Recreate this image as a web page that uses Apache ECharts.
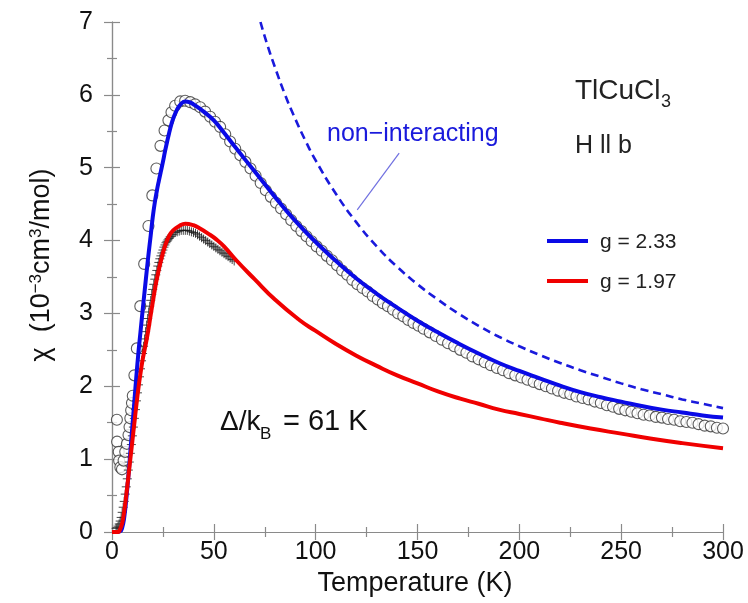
<!DOCTYPE html>
<html><head><meta charset="utf-8">
<script src="https://cdn.jsdelivr.net/npm/echarts@6/dist/echarts.min.js"></script>
<style>html,body{margin:0;padding:0;background:#fff}#c{width:748px;height:603px}</style>
</head><body><div id="c"></div>
<script>
// ---- data ----
var xTicks = [0, 50, 100, 150, 200, 250, 300];
var yTicks = [0, 1, 2, 3, 4, 5, 6, 7];

// open circles: measured chi, [T (K), chi (1e-3 cm3/mol)]
var circlesData = [
  [2.4,1.54],[2.5,1.24],[3.3,1.10],[3.5,0.98],[4.1,0.89],[4.9,0.86],[5.7,0.98],[6.5,1.10],[7.3,1.21],[8.1,1.33],[8.6,1.44],[9.0,1.56],[9.4,1.67],[9.8,1.77],[10.2,1.87],[11.0,2.15],
  [12.2,2.52],[13.9,3.10],[15.8,3.68],[17.9,4.20],[19.8,4.62],[21.8,4.99],[23.8,5.30],[25.8,5.51],[27.7,5.65],[29.2,5.76],[31.0,5.85],[33.5,5.91],[35.9,5.92],
  [38.4,5.90],[40.8,5.87],[43.3,5.83],[45.7,5.77],[48.2,5.70],[50.6,5.63],[53.1,5.56],[55.6,5.46],[58.0,5.36],[60.5,5.26],[63.0,5.17],[65.5,5.08],[68.0,4.99],
  [70.5,4.89],[73.0,4.79],[75.5,4.69],[78.0,4.60],[80.5,4.52],[83.0,4.44],[85.5,4.36],[88.0,4.28],[90.5,4.20],[93.0,4.13],[95.5,4.06],[98.0,3.99],[100.5,3.92],
  [103.0,3.86],[105.5,3.79],[108.0,3.73],[110.5,3.66],[113.0,3.59],[115.5,3.53],[118.0,3.46],[120.5,3.40],[123.0,3.35],[125.5,3.30],[128.0,3.24],[130.5,3.19],
  [133.0,3.14],[135.5,3.10],[138.0,3.05],[140.5,3.00],[143.0,2.96],[145.5,2.91],[148.0,2.87],[150.5,2.83],[153.0,2.79],[156.0,2.74],[159.0,2.69],[162.0,2.64],
  [165.0,2.59],[168.0,2.55],[171.0,2.50],[174.0,2.46],[177.0,2.41],[180.0,2.37],[183.0,2.33],[186.0,2.29],[189.0,2.25],[192.0,2.22],[195.0,2.18],[198.0,2.15],
  [201.0,2.12],[204.0,2.09],[207.0,2.06],[210.0,2.03],[213.0,2.00],[216.0,1.97],[219.0,1.94],[222.0,1.91],[225.0,1.89],[228.0,1.86],[231.0,1.84],[234.0,1.82],
  [237.0,1.79],[240.0,1.77],[243.0,1.74],[246.0,1.72],[249.0,1.69],[252.0,1.67],[255.0,1.65],[258.0,1.63],[261.0,1.61],[264.0,1.60],[267.0,1.58],[270.0,1.57],
  [273.0,1.55],[276.0,1.54],[279.0,1.52],[282.0,1.51],[285.0,1.50],[288.0,1.48],[291.0,1.46],[294.0,1.45],[297.0,1.43],[300.0,1.42]
];

// crosses: second data set, [T, chi]
var crossesData = [
  [2,0.05],[2.5,0.06],[3,0.08],[3.5,0.11],[4,0.15],[4.5,0.2],[5,0.27],[5.5,0.34],[6,0.42],[6.5,0.52],[7,0.62],[7.5,0.73],[8,0.85],[8.5,0.96],[9,1.08],[9.5,1.2],
  [10,1.32],[10.5,1.44],[11,1.56],[11.5,1.68],[12,1.80],[12.5,1.91],[13,2.02],[13.5,2.13],[14,2.24],[14.5,2.35],[15,2.45],[15.5,2.55],[16,2.65],[16.5,2.75],
  [17,2.84],[17.5,2.93],[18,3.02],[18.5,3.10],[19,3.18],[19.5,3.26],[20,3.33],[20.5,3.40],[21,3.47],[21.5,3.53],[22,3.59],[22.5,3.65],[23,3.70],[23.5,3.75],
  [24,3.79],[24.5,3.83],[25,3.87],[25.5,3.91],[26,3.94],[26.5,3.97],[27,3.99],[27.5,4.01],[28,4.03],[28.5,4.05],[29,4.06],[29.5,4.08],[30,4.09],[31,4.11],
  [32,4.12],[33,4.13],[34,4.14],[35,4.14],[36,4.14],[37,4.14],[38,4.13],[39,4.12],[40,4.11],[41,4.10],[42,4.08],[43,4.06],[44,4.04],[45,4.02],[46,4.00],
  [47,3.98],[48,3.96],[49,3.94],[50,3.92],[51,3.90],[52,3.88],[53,3.86],[54,3.84],[55,3.82],[56,3.80],[57,3.78],[58,3.76],[59,3.74],[60,3.72]
];

// fit g = 2.33 (blue solid)
var fitBlue = [
  [2,0],[4,0.01],[5,0.06],[6,0.2],[7,0.45],[8,0.75],[9,1.1],[10,1.45],[11,1.8],[12,2.15],[13,2.47],[14,2.75],[15,3.03],[16,3.3],[17,3.57],[18,3.83],[19,4.07],
  [20,4.32],[21,4.52],[22,4.68],[23,4.82],[24,4.95],[25,5.08],[26,5.22],[27,5.35],[28,5.47],[29,5.58],[30,5.67],[32,5.8],[34,5.88],[36,5.91],[38,5.9],[40,5.87],
  [45,5.77],[50,5.65],[55,5.48],[60,5.30],[70,4.95],[80,4.60],[90,4.27],[100,3.98],[110,3.72],[120,3.48],[130,3.27],[140,3.08],[150,2.90],[160,2.74],
  [170,2.59],[180,2.45],[190,2.32],[200,2.21],[210,2.11],[220,2.01],[230,1.92],[240,1.85],[250,1.79],[260,1.73],[270,1.68],[280,1.64],[290,1.60],[300,1.57]
];

// fit g = 1.97 (red solid)
var fitRed = [
  [0,0],[3,0],[4,0.04],[5,0.12],[6,0.28],[7,0.5],[8,0.75],[9,1.0],[10,1.25],[11,1.5],[12,1.75],[13,1.98],[14,2.18],[15,2.36],[16,2.5],[17,2.64],[18,2.8],
  [19,2.98],[20,3.15],[21,3.32],[22,3.47],[24,3.72],[26,3.92],[28,4.06],[30,4.14],[33,4.2],[36,4.23],[40,4.21],[43,4.17],[47,4.10],[51.5,4.01],[55,3.92],
  [61,3.73],[70,3.47],[80,3.19],[92,2.91],[100,2.76],[110,2.58],[120,2.42],[130,2.28],[140,2.15],[150,2.04],[160,1.93],[171,1.83],[180,1.76],[190,1.68],
  [200,1.62],[210,1.56],[220,1.50],[235,1.42],[250,1.35],[265,1.28],[280,1.22],[300,1.15]
];

// non-interacting (blue dashed)
var nonInteracting = [
  [72.9,7.0],[76,6.71],[80,6.38],[85,6.0],[90,5.67],[95,5.37],[100,5.1],[110,4.64],[120,4.25],[130,3.92],[140,3.64],[150,3.4],[160,3.19],[170,3.0],
  [180,2.83],[190,2.68],[200,2.55],[210,2.43],[220,2.32],[230,2.22],[240,2.13],[250,2.04],[260,1.96],[270,1.89],[280,1.82],[290,1.76],[300,1.70]
];

// pointer from label "non-interacting" to the dashed curve
var pointerLine = [[141,5.2],[120.4,4.42]];

var FONT = '"Liberation Sans", Arial, sans-serif';
var AXC = '#8a8a8a';
var chart = echarts.init(document.getElementById('c'), null, {renderer: 'canvas'});

function xAx(pos, showLabel) {
  return {
    type: 'value', position: pos, min: xTicks[0], max: xTicks[xTicks.length-1], interval: 50,
    axisLine: {show: true, lineStyle: {color: AXC, width: 1.2}},
    axisTick: {show: true, inside: true, length: 8, lineStyle: {color: AXC, width: 1.2}},
    minorTick: {show: true, splitNumber: 2, length: 5, lineStyle: {color: AXC, width: 1.2}},
    splitLine: {show: false},
    axisLabel: {show: showLabel, fontSize: 25, color: '#111', fontFamily: FONT, margin: 8}
  };
}
function yAx(pos, showLabel) {
  return {
    type: 'value', position: pos, min: yTicks[0], max: yTicks[yTicks.length-1], interval: 1,
    axisLine: {show: true, lineStyle: {color: AXC, width: 1.2}},
    axisTick: {show: true, inside: true, length: 8, lineStyle: {color: AXC, width: 1.2}},
    minorTick: {show: true, splitNumber: 2, length: 5, lineStyle: {color: AXC, width: 1.2}},
    splitLine: {show: false},
    axisLabel: {show: showLabel, fontSize: 25, color: '#111', fontFamily: FONT, margin: 19}
  };
}

var crossPath = 'path://M0,5L10,5M5,0L5,10';

function txt(x, y, s, size, color, align) {
  return {type: 'text', x: x, y: y, z: 100,
    style: {text: s, fill: color || '#111', font: size + 'px ' + FONT, verticalAlign: 'middle', align: align || 'left'}};
}

chart.setOption({
  animation: false,
  backgroundColor: '#fff',
  grid: {left: 112, right: 25, top: 22, bottom: 71, containLabel: false},
  xAxis: [xAx('bottom', true), xAx('top', false)],
  yAxis: [yAx('left', true), yAx('right', false)],
  series: [
    {type: 'line', data: nonInteracting, showSymbol: false, smooth: true, clip: true,
     lineStyle: {color: '#1a1adc', width: 2.6, type: [8, 5]}},
    {type: 'line', data: pointerLine, showSymbol: false, lineStyle: {color: '#7070e0', width: 1.2}},
    {type: 'line', data: fitBlue, showSymbol: false, smooth: true, lineStyle: {color: '#0a0ae6', width: 4}},
    {type: 'scatter', data: circlesData, symbol: 'circle', symbolSize: 11,
     itemStyle: {color: '#fff', borderColor: '#333', borderWidth: 1.1}},
    {type: 'line', data: fitRed, showSymbol: false, smooth: true, lineStyle: {color: '#f00000', width: 4}},
    {type: 'scatter', data: crossesData, symbol: crossPath, symbolSize: 9,
     itemStyle: {color: 'none', borderColor: '#1a1a1a', borderWidth: 1}}
  ],
  graphic: [
    txt(575, 91, 'TlCuCl', 28, '#222'),
    txt(661, 102, '3', 18, '#222'),
    txt(575, 146, 'H ll b', 25, '#222'),
    txt(327, 134, 'non\u2212interacting', 25, '#1a1adc'),
    {type: 'line', shape: {x1: 547, y1: 241, x2: 588, y2: 241}, style: {stroke: '#0a0ae6', lineWidth: 4}},
    {type: 'line', shape: {x1: 547, y1: 281, x2: 588, y2: 281}, style: {stroke: '#f00000', lineWidth: 4}},
    txt(600, 242, 'g = 2.33', 21, '#222'),
    txt(600, 282, 'g = 1.97', 21, '#222'),
    txt(220, 422, '\u0394/k', 28, '#111'),
    txt(260, 434, 'B', 17, '#111'),
    txt(283, 422, '= 61 K', 29, '#111'),
    txt(415, 584, 'Temperature (K)', 27, '#111', 'center'),
    {type: 'text', x: 42, y: 265, rotation: Math.PI / 2, z: 100, style: {
      text: '{a|\u03C7  (10}{u|\u22123}{a|cm}{u|3}{a|/mol)}', align: 'center', verticalAlign: 'middle', fill: '#111',
      rich: {a: {fontSize: 27, fontFamily: FONT, fill: '#111'}, u: {fontSize: 17, fontFamily: FONT, fill: '#111', padding: [0, 0, 12, 0]}}}}
  ]
});
</script></body></html>
